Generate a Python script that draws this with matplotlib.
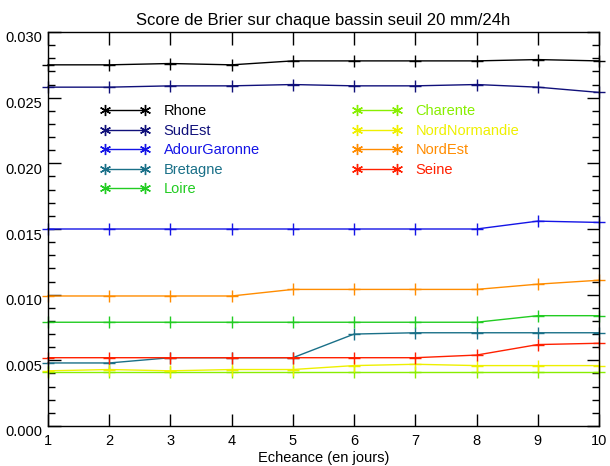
import matplotlib
matplotlib.use("Agg")
import matplotlib.pyplot as plt
from matplotlib.lines import Line2D
from matplotlib.ticker import MultipleLocator, FormatStrFormatter
import matplotlib.transforms as mtransforms

days = [1, 2, 3, 4, 5, 6, 7, 8, 9, 10]
names = ["Rhone", "SudEst", "AdourGaronne", "Bretagne", "Loire",
         "Charente", "NordNormandie", "NordEst", "Seine"]
colors = ["#000000", "#10107a", "#1414e6", "#1a7088", "#22cc22",
          "#88ee00", "#eef000", "#ff8c00", "#ff2000"]

rhone = [0.0275, 0.0275, 0.0276, 0.0275, 0.0278, 0.0278, 0.0278, 0.0278, 0.0279, 0.0278]
sudest = [0.0258, 0.0258, 0.0259, 0.0259, 0.0260, 0.0259, 0.0259, 0.0260, 0.0258, 0.0254]
adour = [0.0150, 0.0150, 0.0150, 0.0150, 0.0150, 0.0150, 0.0150, 0.0150, 0.0156, 0.0155]
bretagne = [0.0048, 0.0048, 0.0052, 0.0052, 0.0052, 0.0070, 0.0071, 0.0071, 0.0071, 0.0071]
loire = [0.0079, 0.0079, 0.0079, 0.0079, 0.0079, 0.0079, 0.0079, 0.0079, 0.0084, 0.0084]
charente = [0.0041, 0.0041, 0.0041, 0.0041, 0.0041, 0.0041, 0.0041, 0.0041, 0.0041, 0.0041]
nordnormandie = [0.0042, 0.0043, 0.0042, 0.0043, 0.0043, 0.0046, 0.0047, 0.0046, 0.0046, 0.0046]
nordest = [0.0099, 0.0099, 0.0099, 0.0099, 0.0104, 0.0104, 0.0104, 0.0104, 0.0108, 0.0111]
seine = [0.0052, 0.0052, 0.0052, 0.0052, 0.0052, 0.0052, 0.0052, 0.0054, 0.0062, 0.0063]

series = [rhone, sudest, adour, bretagne, loire, charente, nordnormandie, nordest, seine]

plt.rcParams['font.family'] = ['Liberation Sans', 'DejaVu Sans']

fig = plt.figure(figsize=(6.10, 4.66), dpi=100)
ax = fig.add_axes([48/610, 40/466, 551/610, 394/466])

for vals, c in zip(series, colors):
    ax.plot(days, vals, color=c, lw=1.0, marker='+', ms=8, mew=1.0, clip_on=False)

ax.set_xlim(1, 10)
ax.set_ylim(0.0, 0.030)
ax.xaxis.set_major_locator(MultipleLocator(1))
ax.yaxis.set_major_locator(MultipleLocator(0.005))
ax.yaxis.set_minor_locator(MultipleLocator(0.001))
ax.yaxis.set_major_formatter(FormatStrFormatter('%.3f'))
ax.tick_params(which='both', direction='in', top=True, right=True, labelsize=10.5, color='black')
ax.tick_params(which='major', length=9, width=1)
ax.tick_params(which='minor', length=5, width=1)
ax.tick_params(axis='y', pad=4)
ax.tick_params(axis='x', pad=6)
for lbl in ax.get_yticklabels():
    lbl.set_transform(lbl.get_transform() + mtransforms.ScaledTranslation(0, -5/100, fig.dpi_scale_trans))
for s in ax.spines.values():
    s.set_linewidth(1.0)

ax.set_title("Score de Brier sur chaque bassin seuil 20 mm/24h", fontsize=12, pad=5)
ax.set_xlabel("Echeance (en jours)", fontsize=10.5, labelpad=2)

handles = [Line2D([0], [0], color=c, lw=1.0, marker=(6, 2, 0), ms=8, mew=1.0) for c in colors]
leg = ax.legend(handles, names, ncol=2, loc='upper left', bbox_to_anchor=(0.072, 0.85),
                frameon=False, numpoints=2, handlelength=3.35, handletextpad=0.95,
                columnspacing=6.4, labelspacing=0.38, fontsize=10.5)
for t, c in zip(leg.get_texts(), colors):
    t.set_color(c)

fig.savefig("out.png", dpi=100)
